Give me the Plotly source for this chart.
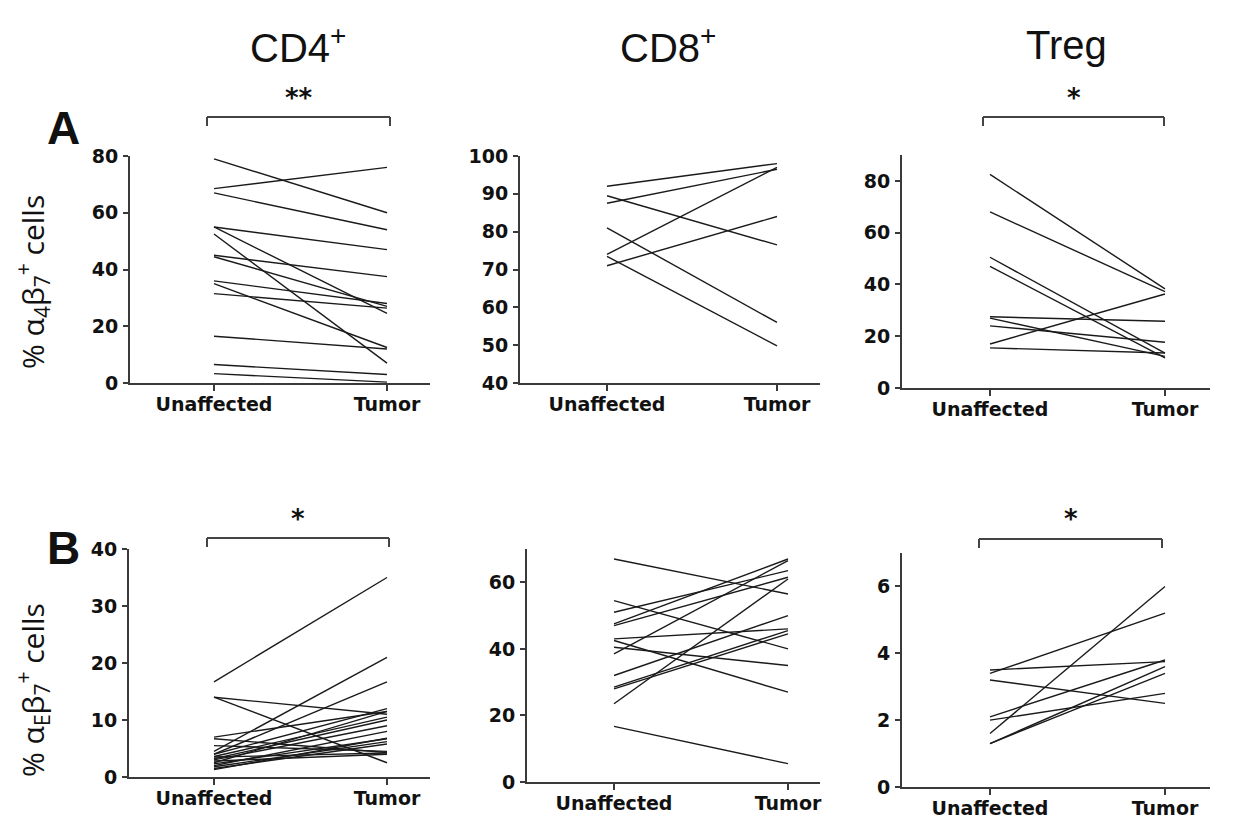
import plotly.graph_objects as go

W, H = 1249, 820

# ---------------- data ----------------
groups = ["Unaffected", "Tumor"]
col_titles = ["CD4<sup>+</sup>", "CD8<sup>+</sup>", "Treg"]
row_labels = ["A", "B"]
row_ytitles = ["% α<sub>4</sub>β<sub>7</sub><sup>+</sup> cells",
               "% α<sub>E</sub>β<sub>7</sub><sup>+</sup> cells"]

A_cd4_unaff = [79, 68.5, 67, 55, 55, 52.5, 45, 44.5, 36, 35, 31.5, 16.5, 6.5, 3.3]
A_cd4_tumor = [60, 76, 54, 47, 24.5, 7, 37.5, 27, 28, 12.5, 26.4, 12, 3, 0.3]

A_cd8_unaff = [92, 87.5, 89.5, 74, 71, 81, 73.5]
A_cd8_tumor = [98, 96.5, 76.5, 97, 84, 56, 49.8]

A_treg_unaff = [82.5, 68, 50.5, 47, 27.5, 27, 24, 17, 15.5]
A_treg_tumor = [38.3, 37.2, 13.5, 11.6, 25.8, 12.2, 17.7, 36.3, 13.5]

B_cd4_unaff = [16.7, 14, 14, 7, 6.7, 5.5, 4.5, 4, 4, 3.6, 3.5, 3.2, 3, 2.8, 2.5, 2.3, 2, 1.8, 1.5, 1.3]
B_cd4_tumor = [35, 11, 2.5, 11.5, 4.3, 4.5, 21, 16.7, 12, 10.5, 4.2, 10, 9, 4, 11.5, 6.7, 8, 6.2, 5.8, 6.8]

B_cd8_unaff = [67, 54.5, 51, 47.5, 47, 43, 42.5, 40.5, 38.5, 32, 28.5, 28, 23.5, 16.7]
B_cd8_tumor = [56.5, 40, 63.5, 67, 61.5, 46, 27, 35, 66.5, 50, 45.5, 44.5, 61, 5.5]

B_treg_unaff = [3.5, 3.4, 3.2, 2.1, 2.0, 1.6, 1.3, 1.3]
B_treg_tumor = [3.75, 5.2, 2.5, 3.8, 2.8, 6.0, 3.6, 3.4]

A_yticks = [[0, 20, 40, 60, 80], [40, 50, 60, 70, 80, 90, 100], [0, 20, 40, 60, 80]]
B_yticks = [[0, 10, 20, 30, 40], [0, 20, 40, 60], [0, 2, 4, 6]]
A_yranges = [[0, 80], [40, 100], [0, 90]]
B_yranges = [[0, 40], [0, 70], [0, 7]]

sig_labels = {(0, 0): "**", (0, 2): "*", (1, 0): "*", (1, 2): "*"}

# ---------------- layout geometry (pixels) ----------------
# (axis_left, unaffected_px, tumor_px, right_edge, y_top, y_bottom)
geom = {
    (0, 0): (130, 214, 387, 430, 156, 383),
    (0, 1): (520, 607, 777, 820, 156, 383),
    (0, 2): (902, 990, 1165, 1210, 155, 388),
    (1, 0): (129, 214, 387, 430, 549, 777),
    (1, 1): (527, 614, 788, 820, 549, 782),
    (1, 2): (902, 990, 1165, 1210, 553, 787),
}
bracket_px = {
    (0, 0): (207, 390, 117, 126, 98),
    (0, 2): (983, 1164, 117, 126, 98),
    (1, 0): (207, 389, 538, 547, 519),
    (1, 2): (979, 1162, 539, 548, 519),
}

data = {
    (0, 0): (A_cd4_unaff, A_cd4_tumor),
    (0, 1): (A_cd8_unaff, A_cd8_tumor),
    (0, 2): (A_treg_unaff, A_treg_tumor),
    (1, 0): (B_cd4_unaff, B_cd4_tumor),
    (1, 1): (B_cd8_unaff, B_cd8_tumor),
    (1, 2): (B_treg_unaff, B_treg_tumor),
}
yticks = {(0, c): A_yticks[c] for c in range(3)}
yticks.update({(1, c): B_yticks[c] for c in range(3)})
yranges = {(0, c): A_yranges[c] for c in range(3)}
yranges.update({(1, c): B_yranges[c] for c in range(3)})


def px(x):
    return x / W


def py(y):
    return 1 - y / H


fig = go.Figure()
layout = dict(width=W, height=H, margin=dict(l=0, r=0, t=0, b=0, pad=0, autoexpand=False),
              paper_bgcolor="white", plot_bgcolor="white", showlegend=False,
              template="none",
              font=dict(family="DejaVu Sans", color="#111"))
shapes = []
annotations = []

AX = "#3a3a3a"
tickfont = dict(family="DejaVu Sans", size=19, color="#111", weight="bold")

idx = 0
for r in range(2):
    for c in range(3):
        idx += 1
        key = (r, c)
        xl, xu, xt, xr, yt, yb = geom[key]
        sp = xt - xu
        xname = "xaxis" if idx == 1 else f"xaxis{idx}"
        yname = "yaxis" if idx == 1 else f"yaxis{idx}"
        xref = "x" if idx == 1 else f"x{idx}"
        yref = "y" if idx == 1 else f"y{idx}"
        layout[xname] = dict(
            domain=[px(xl), px(xr)], anchor=yref, automargin=False,
            type="category", categoryorder="array", categoryarray=groups,
            range=[(xl - xu) / sp, (xr - xu) / sp],
            showline=True, linecolor=AX, linewidth=2,
            ticks="outside", ticklen=6, tickwidth=2, tickcolor=AX,
            showgrid=False, zeroline=False, tickfont=tickfont,
            ticklabelstandoff=-3, fixedrange=True,
        )
        layout[yname] = dict(
            domain=[py(yb), py(yt)], anchor=xref, automargin=False,
            range=yranges[key], tickvals=yticks[key],
            showline=True, linecolor=AX, linewidth=2,
            ticks="outside", ticklen=5, tickwidth=2, tickcolor=AX,
            showgrid=False, zeroline=False, tickfont=tickfont,
            ticklabelstandoff=1, fixedrange=True,
        )
        un, tu = data[key]
        for a, b in zip(un, tu):
            fig.add_trace(go.Scatter(
                x=groups, y=[a, b], mode="lines",
                line=dict(color="#1a1a1a", width=1.4),
                xaxis=xref, yaxis=yref, hoverinfo="skip"))
        if key in bracket_px:
            bx0, bx1, by, byd, sy = bracket_px[key]
            for (x0, y0, x1, y1) in [(bx0, by, bx1, by), (bx0, by, bx0, byd), (bx1, by, bx1, byd)]:
                shapes.append(dict(type="line", xref="paper", yref="paper",
                                   x0=px(x0), y0=py(y0), x1=px(x1), y1=py(y1),
                                   line=dict(color="#444", width=2)))
            annotations.append(dict(text=sig_labels[key], x=px((bx0 + bx1) / 2), y=py(sy),
                                    xref="paper", yref="paper", showarrow=False,
                                    xanchor="center", yanchor="middle",
                                    font=dict(family="DejaVu Sans", size=26, color="#111", weight="bold")))

# column titles
for c, (t, cx) in enumerate(zip(col_titles, [298, 668, 1066])):
    annotations.append(dict(text=t, x=px(cx), y=py(45), xref="paper", yref="paper",
                            showarrow=False, xanchor="center", yanchor="middle",
                            font=dict(family="Liberation Sans", size=40, color="#111")))

# row letters and y titles
for r, (lab, ly, ty) in enumerate(zip(row_labels, [128, 548], [282, 690])):
    annotations.append(dict(text=lab, x=px(63), y=py(ly), xref="paper", yref="paper",
                            showarrow=False, xanchor="center", yanchor="middle",
                            font=dict(family="Liberation Sans", size=46, color="#111", weight="bold")))
    annotations.append(dict(text=row_ytitles[r], x=px(32), y=py(ty), xref="paper", yref="paper",
                            showarrow=False, xanchor="center", yanchor="middle", textangle=-90,
                            font=dict(family="Open Sans", size=30, color="#111")))

layout["shapes"] = shapes
layout["annotations"] = annotations
fig.update_layout(**layout)
fig.write_html("out.html", config={"displayModeBar": False},
               post_script="document.body.style.margin='0';document.body.style.overflow='hidden';")
